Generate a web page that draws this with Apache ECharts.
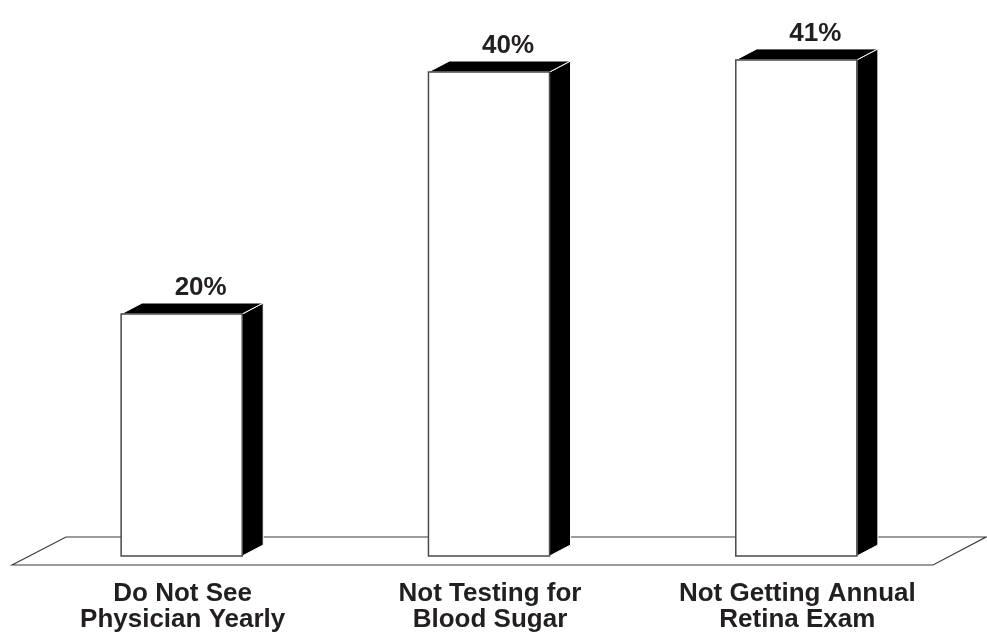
<!DOCTYPE html>
<html>
<head>
<meta charset="utf-8">
<script src="https://cdn.jsdelivr.net/npm/echarts@6/dist/echarts.min.js"></script>
<style>
  html, body { margin: 0; padding: 0; background: #fff; }
  #chart { width: 987px; height: 635px; }
</style>
</head>
<body>
<div id="chart"></div>
<script>
// Share of respondents (%) for each missed diabetes-care step
const categories = ['Do Not See\nPhysician Yearly', 'Not Testing for\nBlood Sugar', 'Not Getting Annual\nRetina Exam'];
const values = [20, 40, 41];
const yMin = 0;
const yMax = 45;

const INK = '#231f20';
const FONT = '"Liberation Sans", Arial, Helvetica, sans-serif';
// pseudo-3D depth offset of the boxes and of the floor slab
const DEPTH_X = 21, DEPTH_Y = 11;

function renderFloor(params, api) {
  const cs = params.coordSys;
  const y0 = api.coord([0, 0])[1];
  const front = y0 + 9, back = y0 - 19;
  const left = cs.x, right = cs.x + cs.width;
  return {
    type: 'polygon',
    shape: { points: [[left - 16, front], [left + 38, back], [right + 36, back], [right - 17, front]] },
    style: { fill: '#fff', stroke: '#3a3a3a', lineWidth: 1.2 }
  };
}

function renderBox(params, api) {
  const i = api.value(0);
  const v = api.value(1);
  const base = api.coord([i, 0]);
  const top = api.coord([i, v]);
  const band = api.size([1, 0])[0];
  const half = band * 0.197;
  const x0 = base[0] - half, x1 = base[0] + half;
  const yB = base[1], yT = top[1];
  return {
    type: 'group',
    children: [
      { // right side face
        type: 'polygon',
        shape: { points: [[x1, yB], [x1 + DEPTH_X, yB - DEPTH_Y], [x1 + DEPTH_X, yT - DEPTH_Y], [x1, yT]] },
        style: { fill: '#000', stroke: '#fff', lineWidth: 1 }
      },
      { // top face
        type: 'polygon',
        shape: { points: [[x0, yT], [x0 + DEPTH_X, yT - DEPTH_Y], [x1 + DEPTH_X, yT - DEPTH_Y], [x1, yT]] },
        style: { fill: '#000', stroke: '#fff', lineWidth: 1 }
      },
      { // front face
        type: 'rect',
        shape: { x: x0, y: yT, width: x1 - x0, height: yB - yT },
        style: { fill: '#fff', stroke: '#4a4a4a', lineWidth: 1.5 }
      },
      { // value label
        type: 'text',
        style: {
          text: v + '%', x: base[0] + 19, y: yT - 26,
          align: 'center', verticalAlign: 'middle',
          font: 'bold 26px ' + FONT, fill: INK
        }
      }
    ]
  };
}

const chart = echarts.init(document.getElementById('chart'), null, { renderer: 'canvas' });
chart.setOption({
  animation: false,
  backgroundColor: '#fff',
  grid: { left: 28, right: 37, top: 11.5, bottom: 79 },
  xAxis: {
    type: 'category',
    data: categories,
    axisLine: { show: false },
    axisTick: { show: false },
    splitLine: { show: false },
    axisLabel: {
      interval: 0,
      margin: 25,
      fontSize: 26,
      fontWeight: 'bold',
      lineHeight: 26,
      fontFamily: FONT,
      color: INK,
      padding: [0, 0, 0, 2]
    }
  },
  yAxis: { type: 'value', min: yMin, max: yMax, show: false },
  series: [
    { type: 'custom', silent: true, z: 1, data: [[0, 0]], renderItem: renderFloor },
    { type: 'custom', silent: true, z: 2, data: values.map((v, i) => [i, v]), renderItem: renderBox }
  ]
});
</script>
</body>
</html>
